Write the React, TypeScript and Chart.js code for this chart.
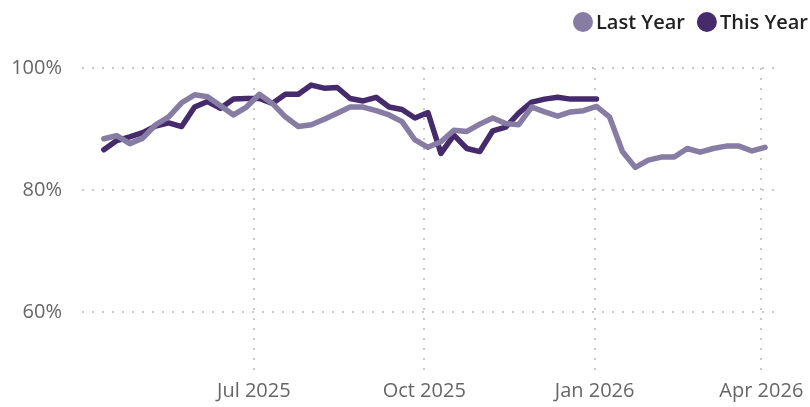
import { useEffect, useRef } from "react";
import { Chart, registerables } from "chart.js";

Chart.register(...registerables);

const WEEKS = [
  "2025-04-11", "2025-04-18", "2025-04-25", "2025-05-02", "2025-05-09", "2025-05-16",
  "2025-05-23", "2025-05-30", "2025-06-06", "2025-06-13", "2025-06-20", "2025-06-27",
  "2025-07-04", "2025-07-11", "2025-07-18", "2025-07-25", "2025-08-01", "2025-08-08",
  "2025-08-15", "2025-08-22", "2025-08-29", "2025-09-05", "2025-09-12", "2025-09-19",
  "2025-09-26", "2025-10-03", "2025-10-10", "2025-10-17", "2025-10-24", "2025-10-31",
  "2025-11-07", "2025-11-14", "2025-11-21", "2025-11-28", "2025-12-05", "2025-12-12",
  "2025-12-19", "2025-12-26", "2026-01-02", "2026-01-09", "2026-01-16", "2026-01-23",
  "2026-01-30", "2026-02-06", "2026-02-13", "2026-02-20", "2026-02-27", "2026-03-06",
  "2026-03-13", "2026-03-20", "2026-03-27", "2026-04-03",
];

const LAST_YEAR = [
  88.4, 88.9, 87.6, 88.5, 90.7, 92.0, 94.3, 95.6, 95.3, 93.8, 92.3, 93.6,
  95.7, 94.2, 92.0, 90.4, 90.7, 91.6, 92.6, 93.6, 93.6, 93.0, 92.3, 91.2,
  88.2, 87.0, 87.9, 89.8, 89.6, 90.8, 91.8, 90.9, 90.7, 93.6, 92.8, 92.1,
  92.8, 93.0, 93.7, 92.0, 86.3, 83.7, 84.9, 85.4, 85.4, 86.8, 86.2, 86.8,
  87.2, 87.2, 86.4, 87.0,
];

const THIS_YEAR = [
  86.6, 88.1, 88.7, 89.4, 90.5, 91.0, 90.4, 93.6, 94.5, 93.4, 94.9, 95.0,
  95.0, 94.2, 95.7, 95.7, 97.2, 96.7, 96.8, 95.0, 94.6, 95.2, 93.6, 93.2,
  91.8, 92.7, 86.0, 89.0, 86.8, 86.3, 89.7, 90.3, 92.6, 94.4, 94.9, 95.2,
  94.9, 94.9, 94.9,
];

const SERIES_NAMES = ["Last Year", "This Year"];
const SERIES_COLORS = ["#877ca3", "#452b6b"];

const X_TICKS = ["2025-07-01", "2025-10-01", "2026-01-01", "2026-04-01"];
const X_TICK_LABELS = ["Jul 2025", "Oct 2025", "Jan 2026", "Apr 2026"];
const X_RANGE = ["2025-03-30T05:00:00Z", "2026-04-11T05:00:00Z"];
const Y_TICKS = [60, 80, 100];
const Y_RANGE = [50, 100];

const toMs = (s: string) => Date.parse(s.length === 10 ? s + "T00:00:00Z" : s);

const legendPlugin = {
  id: "customLegend",
  afterDraw(chart: any) {
    const ctx = chart.ctx;
    ctx.save();
    ctx.font = "600 20px 'Open Sans'";
    ctx.textBaseline = "middle";
    ctx.textAlign = "left";
    const items = chart.data.datasets.map((d: any) => ({ text: d.label, color: d.borderColor }));
    const widths = items.map((it: any) => ctx.measureText(it.text).width);
    const gap = 12;
    const total = widths.reduce((a: number, w: number) => a + 23 + w, 0) + gap * (items.length - 1);
    let x = 808 - total;
    const cy = 22;
    items.forEach((it: any, i: number) => {
      ctx.fillStyle = it.color;
      ctx.beginPath();
      ctx.arc(x + 10, cy, 10, 0, Math.PI * 2);
      ctx.fill();
      ctx.fillStyle = "#222222";
      ctx.fillText(it.text, x + 23, cy + 1);
      x += 23 + widths[i] + gap;
    });
    ctx.restore();
  },
};

export default function App() {
  const canvasRef = useRef<HTMLCanvasElement | null>(null);

  useEffect(() => {
    if (!canvasRef.current) return;
    const gridCommon = { color: "#c9c9c9", lineWidth: 2, drawTicks: false };
    const borderCommon = { display: false, dash: [2, 8] };
    const tickFont = { family: "'Open Sans'", size: 20 };

    const chart = new Chart(canvasRef.current, {
      type: "line",
      data: {
        datasets: [
          {
            label: SERIES_NAMES[0],
            data: LAST_YEAR.map((v, i) => ({ x: toMs(WEEKS[i]), y: v })),
            borderColor: SERIES_COLORS[0],
            backgroundColor: SERIES_COLORS[0],
          },
          {
            label: SERIES_NAMES[1],
            data: THIS_YEAR.map((v, i) => ({ x: toMs(WEEKS[i]), y: v })),
            borderColor: SERIES_COLORS[1],
            backgroundColor: SERIES_COLORS[1],
          },
        ].map((d) => ({
          ...d,
          borderWidth: 5.5,
          pointRadius: 0,
          pointHoverRadius: 0,
          tension: 0,
          borderCapStyle: "round",
          borderJoinStyle: "round",
          fill: false,
        })) as any,
      },
      options: {
        animation: false,
        responsive: false,
        maintainAspectRatio: false,
        layout: { padding: { top: 68, left: 0, right: 25, bottom: 0 } },
        plugins: {
          legend: { display: false },
          tooltip: { enabled: false },
        },
        scales: {
          x: {
            type: "linear",
            min: toMs(X_RANGE[0]),
            max: toMs(X_RANGE[1]),
            afterBuildTicks: (s: any) => {
              s.ticks = X_TICKS.map((t) => ({ value: toMs(t) }));
            },
            afterFit: (s: any) => {
              s.height = 34;
            },
            grid: gridCommon,
            border: borderCommon,
            ticks: {
              padding: 6,
              color: "#666666",
              font: tickFont,
              maxRotation: 0,
              autoSkip: false,
              callback: (v: any) => {
                const idx = X_TICKS.findIndex((t) => toMs(t) === v);
                return idx >= 0 ? X_TICK_LABELS[idx] : "";
              },
            },
          },
          y: {
            type: "linear",
            min: Y_RANGE[0],
            max: Y_RANGE[1],
            afterBuildTicks: (s: any) => {
              s.ticks = Y_TICKS.map((v) => ({ value: v }));
            },
            afterFit: (s: any) => {
              s.width = 82;
            },
            grid: gridCommon,
            border: borderCommon,
            ticks: {
              padding: 20,
              color: "#666666",
              font: tickFont,
              callback: (v: any) => v + "%",
            },
          },
        },
      } as any,
      plugins: [legendPlugin],
    });

    return () => chart.destroy();
  }, []);

  return (
    <div style={{ position: "absolute", left: 0, top: 0, width: 810, height: 407, background: "#ffffff" }}>
      <canvas ref={canvasRef} width={810} height={407} style={{ display: "block" }} />
    </div>
  );
}
